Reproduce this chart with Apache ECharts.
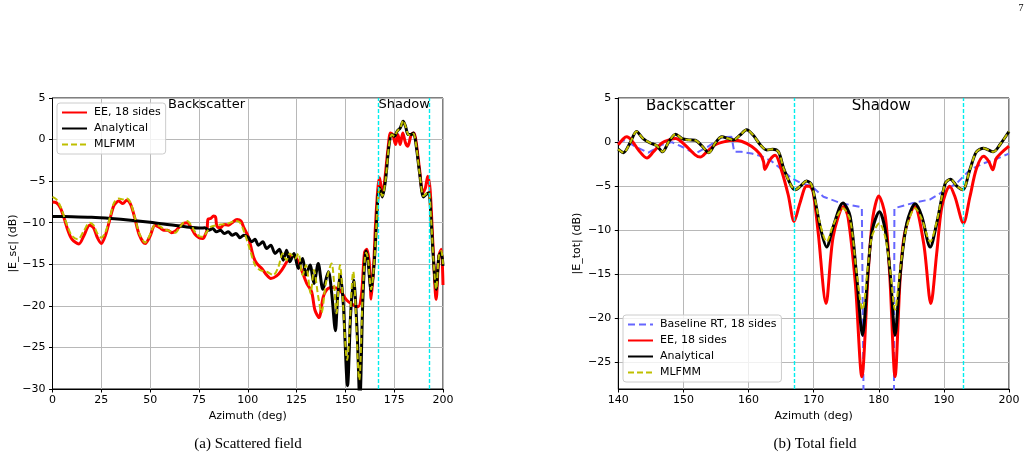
<!DOCTYPE html>
<html>
<head>
<meta charset="utf-8">
<script src="https://cdn.jsdelivr.net/npm/echarts@6/dist/echarts.min.js"></script>
<style>
  html, body { margin: 0; padding: 0; background: #fff; }
  #chart { width: 1033px; height: 460px; }
</style>
</head>
<body>
<div id="chart"></div>
<script>
// (a) scattered field
var scEeX = [0, 2, 4, 6, 8, 10, 13.5, 16, 19, 21, 23, 25, 27, 29.5, 31.5, 34, 36, 38, 40, 42, 44.5, 47.5, 50, 52.5, 55, 57, 59, 61, 63, 65, 67, 69, 71, 73, 75, 77, 78.5, 79.2, 79.6, 81, 82.5, 83.5, 84.2, 86, 88, 90, 92, 94.5, 96.5, 98, 100.3, 102.9, 104.6, 107.2, 109.7, 111.8, 114.8, 117.4, 120, 122.5, 125, 127.6, 130.2, 132.7, 134.4, 136.5, 138.7, 141.2, 143.8, 147.2, 150.6, 154.9, 156.6, 158.3, 159.8, 161, 162.4, 163.2, 164.4, 165.4, 166.6, 167.5, 168.9, 170, 171.8, 173.1, 174.3, 175.7, 176.9, 178.1, 179.4, 180.8, 182, 183.7, 185.1, 186.3, 188, 189.7, 191, 192.2, 193.4, 194.8, 196.5, 197.9, 199.1, 200];
var scEeY = [-7.5, -7.6, -8.2, -9.5, -11, -12, -12.55, -11.6, -10.3, -10.6, -11.8, -12.5, -11.6, -9.5, -7.9, -7.4, -7.7, -7.3, -7.8, -9.3, -11.5, -12.5, -11.6, -10.3, -10.6, -10.9, -10.9, -11.2, -11.0, -10.5, -10.1, -10.0, -10.6, -11.4, -11.8, -11.9, -11.3, -10.8, -9.6, -9.5, -9.2, -9.3, -10.4, -10.6, -10.2, -10.3, -10, -9.6, -9.8, -10.6, -11.7, -14.1, -14.9, -15.5, -16.3, -16.7, -16.4, -15.7, -14.7, -13.9, -14.3, -15.7, -17.3, -18.3, -20.5, -21.4, -18.9, -17.9, -17.8, -18.1, -19.3, -20, -20.1, -18.5, -13.6, -13.2, -15.2, -19.2, -15.6, -10.4, -6, -4.6, -6.6, -5.2, -1.2, 0.8, 0.6, -0.6, 0.6, -0.6, 0.8, -0.4, -0.8, 0.6, 0.8, -0.4, -3.6, -6.4, -5.8, -4.4, -6, -12.4, -19.2, -14, -13.2, -17.5];

var scAnX = [0, 10, 20, 30, 40, 50, 60, 70, 76, 78, 80, 82, 84, 86, 88, 90, 92, 94, 96, 98, 100, 102, 103.7, 105.5, 107.7, 109.7, 111.8, 114, 116.2, 118.2, 119.9, 121.6, 123.7, 125.9, 128.1, 129.8, 131.9, 133.9, 136.1, 138.5, 141.3, 143, 144.9, 146, 147.4, 149, 151.1, 152.7, 154.2, 156, 157.4, 159, 160.6, 161.5, 163.2, 164.9, 166.6, 167.5, 168.9, 170.6, 172.3, 173.8, 175.2, 176.5, 178.1, 179.6, 180.8, 182.2, 183.7, 184.9, 186.3, 188, 190, 191.4, 192.7, 193.9, 195.1, 196.5, 197.9, 199.1, 200];
var scAnY = [-9.25, -9.28, -9.35, -9.5, -9.7, -9.95, -10.25, -10.55, -10.65, -10.6, -10.9, -10.7, -11.1, -10.9, -11.3, -11.1, -11.5, -11.3, -11.8, -11.5, -11.7, -12.3, -12.0, -12.7, -12.3, -13.1, -12.7, -13.7, -13.2, -14.5, -13.3, -14.7, -13.7, -15.5, -14.3, -16.3, -15.1, -17.3, -14.9, -18.0, -15.9, -18.5, -23, -19, -16.2, -20, -29.6, -21, -16.9, -23, -31.5, -19, -13.4, -14.4, -18.2, -14.4, -7.2, -5.8, -6.9, -4.8, -0.8, 0.6, 0.4, 1.0, 1.4, 2.2, 1.6, 0.6, 0.6, 0.8, -0.8, -4, -6.9, -6.6, -6.4, -9.6, -14.4, -18, -14, -13.6, -15.2];

var scMlX = [0, 2, 4, 6, 8, 10, 13, 16, 19, 21, 23, 25, 27, 29.5, 31.5, 34, 36, 38, 40, 42, 44.5, 47.5, 50, 52.5, 55, 57, 59, 61, 63, 65, 67, 69, 71, 73, 75, 77, 79, 81, 84, 87, 90, 92, 94, 96, 98, 101.2, 103.7, 106.3, 109.7, 113.1, 115.7, 117.9, 119.9, 121.6, 124.2, 125.9, 128.1, 129.8, 132.2, 133.9, 136.1, 137.8, 140, 142.9, 145.5, 147.2, 150.9, 154, 157.1, 159, 160.6, 161.5, 163.2, 164.9, 166.6, 167.5, 168.9, 170.6, 172.3, 173.8, 175.2, 176.5, 178.1, 179.6, 180.8, 182.2, 183.7, 184.9, 186.3, 188, 190, 191.4, 192.7, 193.9, 195.1, 196.5, 197.9, 199.1, 200];
var scMlY = [-6.9, -7.2, -8, -9.3, -10.6, -11.6, -12.0, -11.0, -10.0, -10.3, -11.3, -11.8, -11.2, -9.3, -7.6, -7.1, -7.2, -7.1, -7.6, -9.2, -11.3, -12.4, -11.4, -10.3, -10.4, -10.8, -10.9, -11.1, -11.2, -10.6, -10.0, -9.8, -10.3, -11.1, -11.6, -11.7, -11.1, -10.5, -10.3, -10.2, -10.1, -9.9, -9.8, -10.0, -11.0, -13.3, -15.1, -15.7, -15.9, -16.3, -15.3, -13.7, -14.5, -13.7, -14.3, -13.7, -16.3, -15.1, -18.5, -15.7, -18.9, -20.8, -17.3, -14.9, -20.9, -15.1, -26.5, -15.9, -28.9, -18, -13.6, -14.2, -18, -14.4, -7.2, -5.9, -6.8, -4.8, -0.8, 0.6, 0.4, 1.0, 1.4, 2.3, 1.6, 0.6, 0.5, 0.7, -0.8, -4, -6.8, -6.5, -6.3, -9.6, -14.4, -18, -14, -13.4, -15];

// (b) total field
var totRtX = [140, 141, 142.6, 144.6, 146.7, 148.2, 149.7, 151.8, 153.8, 155.9, 157.4, 157.8, 158.9, 160.5, 162, 163.6, 165.1, 166.6, 168.2, 169.7, 171.5, 174.1, 177.4, 177.7, 177.8, 182.3, 182.4, 185.3, 187.9, 189.9, 192, 194, 196.1, 198.1, 200];
var totRtY = [0, 0.2, -0.5, -1.2, -0.3, 0, -0.5, -1.3, -0.5, 0.55, 0.6, -1.1, -1.1, -1.3, -1.6, -2.2, -3.1, -4.1, -4.7, -5.0, -6.2, -6.9, -7.4, -7.5, -40, -40, -7.5, -6.9, -6.5, -5.6, -4.65, -3.15, -2.4, -1.9, -1.3];

var totEeX = [140, 140.8, 141.3, 142, 143.1, 144.4, 145.4, 146.7, 148, 148.8, 150.2, 151.8, 152.6, 153.6, 154.9, 156.4, 157.7, 158.9, 160.5, 161.8, 162.3, 162.5, 163.3, 164.1, 165.1, 166.1, 167, 167.9, 168.9, 169.3, 169.9, 170.7, 171.9, 173, 174.6, 175.3, 176.4, 177.4, 178.4, 179.1, 180, 181, 181.7, 182.5, 183.3, 184, 185.5, 186.9, 188, 188.9, 189.7, 190.9, 191.7, 193, 194, 195, 196.1, 196.9, 197.5, 198.1, 200];
var totEeY = [-0.3, 0.4, 0.6, 0.25, -0.9, -1.8, -1.1, -0.1, 0.3, 0.4, -0.3, -1.45, -1.7, -1.1, -0.3, 0.06, 0.2, 0.1, -0.5, -1.4, -2.2, -3.1, -2.0, -1.5, -3.3, -6, -9, -6.9, -5.0, -5.0, -5.6, -10.3, -18.3, -10.7, -7.3, -8.6, -16, -26.6, -14.5, -8.5, -6.1, -8.4, -15.3, -26.6, -15.3, -10.3, -7.3, -11.5, -18.3, -12.6, -7.3, -5.0, -6.2, -9.2, -6.2, -3, -1.6, -2.2, -3.15, -1.8, -0.45];

var totAnX = [140, 140.8, 141.8, 142.8, 143.8, 144.9, 145.9, 146.8, 147.8, 148.8, 149.8, 150.8, 151.8, 152.8, 153.9, 154.9, 155.9, 156.9, 157.7, 158.7, 159.7, 160.7, 161.8, 162.8, 163.7, 164.6, 165.4, 166.6, 167.2, 168.1, 168.9, 169.7, 171, 172, 173, 174.5, 175.6, 176.6, 177.5, 178.4, 179, 180.1, 181, 181.8, 182.5, 183.3, 184.3, 185.6, 186.6, 187.9, 188.9, 190.2, 191, 192, 192.9, 194, 195, 196.1, 197.6, 198.6, 200];
var totAnY = [-0.8, -1.2, -0.1, 1.2, 0.4, -0.1, -0.4, -1.1, 0.1, 0.9, 0.4, 0.25, 0.2, -0.4, -1.2, -0.1, 0.6, 0.4, 0.25, 0.8, 1.4, 0.8, -0.3, -0.9, -0.8, -1.1, -3.0, -5.0, -5.4, -4.9, -4.4, -4.85, -9.6, -11.9, -9.6, -6.9, -8.4, -15.2, -21.9, -14.1, -10, -7.9, -10, -15.3, -21.9, -14.9, -9.2, -7.0, -8.4, -11.9, -9.2, -4.7, -4.2, -5.0, -5.4, -3.1, -1.1, -0.7, -1.1, -0.3, 1.2];

var totMlX = totAnX;
var totMlY = [-0.8, -1.2, -0.1, 1.2, 0.4, -0.1, -0.4, -1.1, 0.1, 0.9, 0.4, 0.25, 0.2, -0.4, -1.2, -0.1, 0.6, 0.4, 0.25, 0.8, 1.4, 0.8, -0.3, -0.9, -0.8, -1.1, -3.0, -5.0, -5.4, -4.9, -4.4, -4.9, -9.3, -11.3, -9.4, -7.5, -8.8, -14.8, -19.0, -13.6, -10.6, -9.2, -10.8, -14.8, -19.0, -14.3, -9.6, -7.5, -8.7, -11.3, -9.0, -4.7, -4.2, -5.0, -5.4, -3.1, -1.1, -0.7, -1.1, -0.3, 1.2];

var totTicksY = [-25, -20, -15, -10, -5, 0, 5];
var boundaryAz = [167, 193];

function zip(xs, ys) {
    var out = [];
    for (var i = 0; i < xs.length; i++) {
        out.push([xs[i], ys[i]]);
    }
    return out;
}

function minus(v) {
    return String(v).replace('-', '\u2212');
}

var font = 'DejaVu Sans';

function xAxisCfg(grid, min, max, interval) {
    return {
        gridIndex: grid, type: 'value', min: min, max: max, interval: interval,
        name: 'Azimuth (deg)', nameLocation: 'middle', nameGap: 20,
        nameTextStyle: { color: '#000', fontSize: 11, fontFamily: font },
        axisLine: { show: true, onZero: false, lineStyle: { color: '#000', width: 1 } },
        axisTick: { show: true, length: 3.5, lineStyle: { color: '#000' } },
        axisLabel: { color: '#000', fontSize: 11, fontFamily: font, margin: 6, formatter: minus },
        splitLine: { show: true, lineStyle: { color: '#b8b8b8', width: 1 } }
    };
}

function yAxisCfg(grid, min, max, name, gap) {
    return {
        gridIndex: grid, type: 'value', min: min, max: max, interval: 5,
        name: name, nameLocation: 'middle', nameGap: gap,
        nameTextStyle: { color: '#000', fontSize: 11, fontFamily: font },
        axisLine: { show: true, onZero: false, lineStyle: { color: '#000', width: 1 } },
        axisTick: { show: true, length: 3.5, lineStyle: { color: '#000' } },
        axisLabel: { color: '#000', fontSize: 11, fontFamily: font, margin: 7, formatter: minus },
        splitLine: { show: true, lineStyle: { color: '#b8b8b8', width: 1 } }
    };
}

// right panel runs down to -28, so its ticks are listed instead of counted
var yTot = yAxisCfg(1, -28, 5, '|E_tot| (dB)', 36);
delete yTot.interval;
yTot.axisTick.customValues = totTicksY;
yTot.axisLabel.customValues = totTicksY;

var cyan = {
    symbol: 'none', silent: true, label: { show: false },
    lineStyle: { color: '#00eeee', type: [4, 2], width: 1.4 },
    data: boundaryAz.map(function (v) { return { xAxis: v }; })
};

function line(name, xi, data, color, width, dash, smooth) {
    return {
        type: 'line', name: name, xAxisIndex: xi, yAxisIndex: xi,
        data: data, symbol: 'none', showSymbol: false, smooth: smooth,
        clip: true, animation: false,
        lineStyle: { color: color, width: width, type: dash || 'solid' },
        itemStyle: { color: color },
        emphasis: { disabled: true }
    };
}

var s = [];
s.push(line('EE, 18 sides', 0, zip(scEeX, scEeY), '#ff0000', 3, null, 0.3));
s.push(line('Analytical', 0, zip(scAnX, scAnY), '#000000', 3, null, 0.3));
var ml0 = line('MLFMM', 0, zip(scMlX, scMlY), '#bfbf00', 2, [6, 3], 0.3);
ml0.markLine = cyan;
s.push(ml0);
s.push(line('Baseline RT, 18 sides', 1, zip(totRtX, totRtY), '#6666ff', 2, [7, 4], false));
s.push(line('EE, 18 sides', 1, zip(totEeX, totEeY), '#ff0000', 3, null, 0.3));
s.push(line('Analytical', 1, zip(totAnX, totAnY), '#000000', 3, null, 0.3));
var ml1 = line('MLFMM', 1, zip(totMlX, totMlY), '#bfbf00', 2, [6, 3], 0.3);
ml1.markLine = cyan;
s.push(ml1);

var legendBase = {
    orient: 'vertical', itemWidth: 25, itemHeight: 10, itemGap: 5,
    backgroundColor: 'rgba(255,255,255,0.8)', borderColor: '#cccccc', borderWidth: 1, borderRadius: 3,
    padding: [4, 5, 4, 4],
    itemStyle: { color: 'rgba(0,0,0,0)', borderWidth: 0, opacity: 0 },
    textStyle: { color: '#000', fontSize: 11, fontFamily: font, padding: [0, 0, 0, 2] },
    selectedMode: false
};

var option = {
    animation: false,
    backgroundColor: '#fff',
    grid: [
        { left: 52.5, top: 98, width: 390.5, height: 291, show: true, borderColor: '#000', borderWidth: 1, backgroundColor: 'transparent' },
        { left: 618.3, top: 98, width: 390.7, height: 291, show: true, borderColor: '#000', borderWidth: 1, backgroundColor: 'transparent' }
    ],
    xAxis: [xAxisCfg(0, 0, 200, 25), xAxisCfg(1, 140, 200, 10)],
    yAxis: [yAxisCfg(0, -30, 5, '|E_sc| (dB)', 34), yTot],
    legend: [
        Object.assign({}, legendBase, { left: 57, top: 103, data: ['EE, 18 sides', 'Analytical', 'MLFMM'] }),
        Object.assign({}, legendBase, { left: 623, top: 315, data: ['Baseline RT, 18 sides', 'EE, 18 sides', 'Analytical', 'MLFMM'] })
    ],
    graphic: [
        { type: 'text', x: 168, y: 105, style: { text: 'Backscatter', font: '13px DejaVu Sans', fill: '#000', verticalAlign: 'middle' } },
        { type: 'text', x: 378.5, y: 105, style: { text: 'Shadow', font: '13px DejaVu Sans', fill: '#000', verticalAlign: 'middle' } },
        { type: 'text', x: 646, y: 106, style: { text: 'Backscatter', font: '15px DejaVu Sans', fill: '#000', verticalAlign: 'middle' } },
        { type: 'text', x: 851.7, y: 106, style: { text: 'Shadow', font: '15px DejaVu Sans', fill: '#000', verticalAlign: 'middle' } },
        { type: 'text', x: 248, y: 444, style: { text: '(a) Scattered field', font: '15px Liberation Serif', fill: '#000', align: 'center', verticalAlign: 'middle' } },
        { type: 'text', x: 815, y: 444, style: { text: '(b) Total field', font: '15px Liberation Serif', fill: '#000', align: 'center', verticalAlign: 'middle' } },
        { type: 'text', x: 1021, y: 8, style: { text: '7', font: '10px Liberation Serif', fill: '#000', align: 'center', verticalAlign: 'middle' } }
    ],
    series: s
};

var myChart = echarts.init(document.getElementById('chart'));
myChart.setOption(option);
</script>
</body>
</html>
